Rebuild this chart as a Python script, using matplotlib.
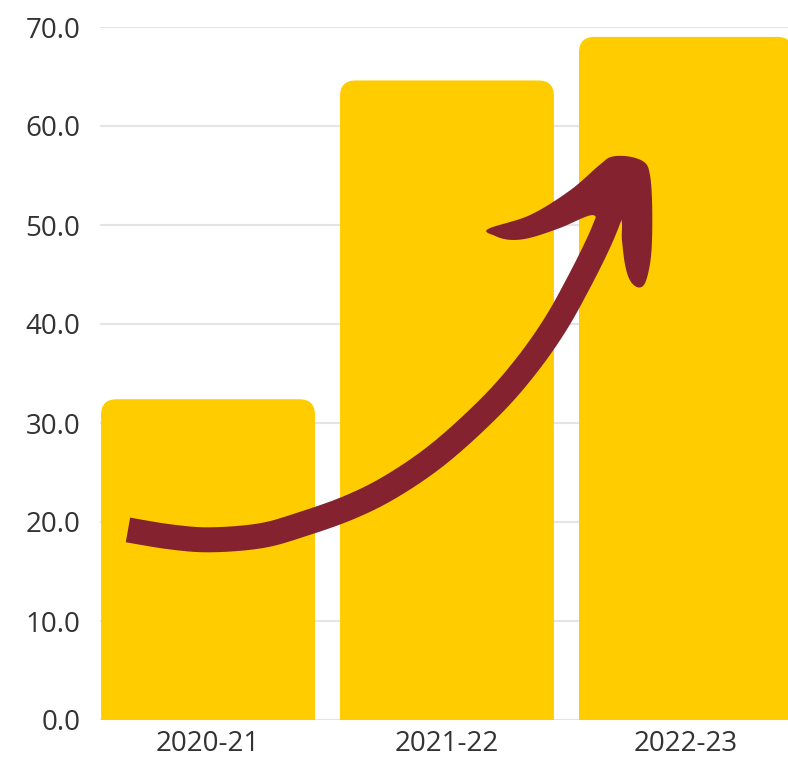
import numpy as np
import matplotlib
matplotlib.use("Agg")
from matplotlib import pyplot as plt
from matplotlib.patches import FancyBboxPatch, Polygon

# data
years = ["2020-21", "2021-22", "2022-23"]
values = [32.4, 64.6, 69.0]
yticks = [0, 10, 20, 30, 40, 50, 60, 70]

bar_color = "#FFCC00"
arrow_color = "#84232F"
text_color = "#333333"

plt.rcParams['font.family'] = ['Open Sans', 'DejaVu Sans']


def smooth(pts, closed=False, n=12):
    """Catmull-Rom pass over the hand-drawn arrow outline."""
    pts = np.asarray(pts, float)
    if closed:
        p = np.vstack([pts[-1], pts, pts[0], pts[1]])
    else:
        p = np.vstack([pts[0], pts, pts[-1]])
    out = []
    t = np.linspace(0, 1, n, endpoint=False)[:, None]
    for i in range(1, len(p) - 2):
        p0, p1, p2, p3 = p[i - 1], p[i], p[i + 1], p[i + 2]
        out.append(0.5 * ((2 * p1) + (-p0 + p2) * t
                          + (2 * p0 - 5 * p1 + 4 * p2 - p3) * t ** 2
                          + (-p0 + 3 * p1 - 3 * p2 + p3) * t ** 3))
    out.append(p[-2][None, :])
    return np.vstack(out)


fig = plt.figure(figsize=(7.88, 7.65), dpi=100)
ax = fig.add_axes([100/788, 45/765, 688/788, 693/765])

x = np.arange(len(years))
width = 0.895
bars = ax.bar(x, values, width, color=bar_color, zorder=2)

# swap plain bars for ones with rounded tops (bottom part is clipped at 0)
for b in bars:
    b.set_visible(False)
    rb = FancyBboxPatch((b.get_x(), -5), b.get_width(), b.get_height() + 5,
                        boxstyle="round,pad=0,rounding_size=0.065",
                        mutation_aspect=24, facecolor=bar_color,
                        edgecolor="none", zorder=2)
    ax.add_patch(rb)

ax.set_xlim(-0.452, 2.427)
ax.set_ylim(0, 70)
ax.set_yticks(yticks)
ax.set_yticklabels([f"{v:.1f}" for v in yticks])
ax.set_xticks(x)
ax.set_xticklabels(years)
ax.tick_params(axis="both", length=0, labelsize=20, colors=text_color)
ax.tick_params(axis="y", pad=14)
ax.tick_params(axis="x", pad=7)
ax.grid(axis="y", color="#e4e4e4", linewidth=1.5, zorder=0)
ax.set_axisbelow(True)
for s in ax.spines.values():
    s.set_visible(False)

# hand-drawn style arrow (annotation)
shaft = np.array([
    (-0.335, 1.92), (-0.159, 1.85), (0.008, 1.82), (0.218, 1.86),
    (0.385, 1.97), (0.594, 2.15), (0.774, 2.37), (0.971, 2.70),
    (1.180, 3.16), (1.326, 3.56), (1.452, 3.99), (1.556, 4.44),
    (1.640, 4.85), (1.690, 5.15),
])
shaft[:, 1] *= 10
sm = smooth(shaft)
ax.plot(sm[:, 0], sm[:, 1], color=arrow_color, linewidth=18,
        solid_capstyle="butt", solid_joinstyle="round", zorder=3)

head = np.array([
    (1.172, 4.96), (1.347, 5.10), (1.515, 5.35), (1.640, 5.61),
    (1.690, 5.69), (1.766, 5.69), (1.828, 5.63), (1.849, 5.51),
    (1.858, 5.25), (1.858, 4.85), (1.849, 4.60), (1.828, 4.41),
    (1.799, 4.37), (1.766, 4.44), (1.745, 4.60), (1.732, 4.85),
    (1.724, 5.07), (1.640, 5.00), (1.607, 5.10), (1.473, 4.97),
    (1.347, 4.87), (1.264, 4.85), (1.201, 4.89),
])
head[:, 1] *= 10
ax.add_patch(Polygon(smooth(head, closed=True), closed=True,
                     facecolor=arrow_color, edgecolor="none", zorder=3))

fig.savefig("out.png", dpi=100)
